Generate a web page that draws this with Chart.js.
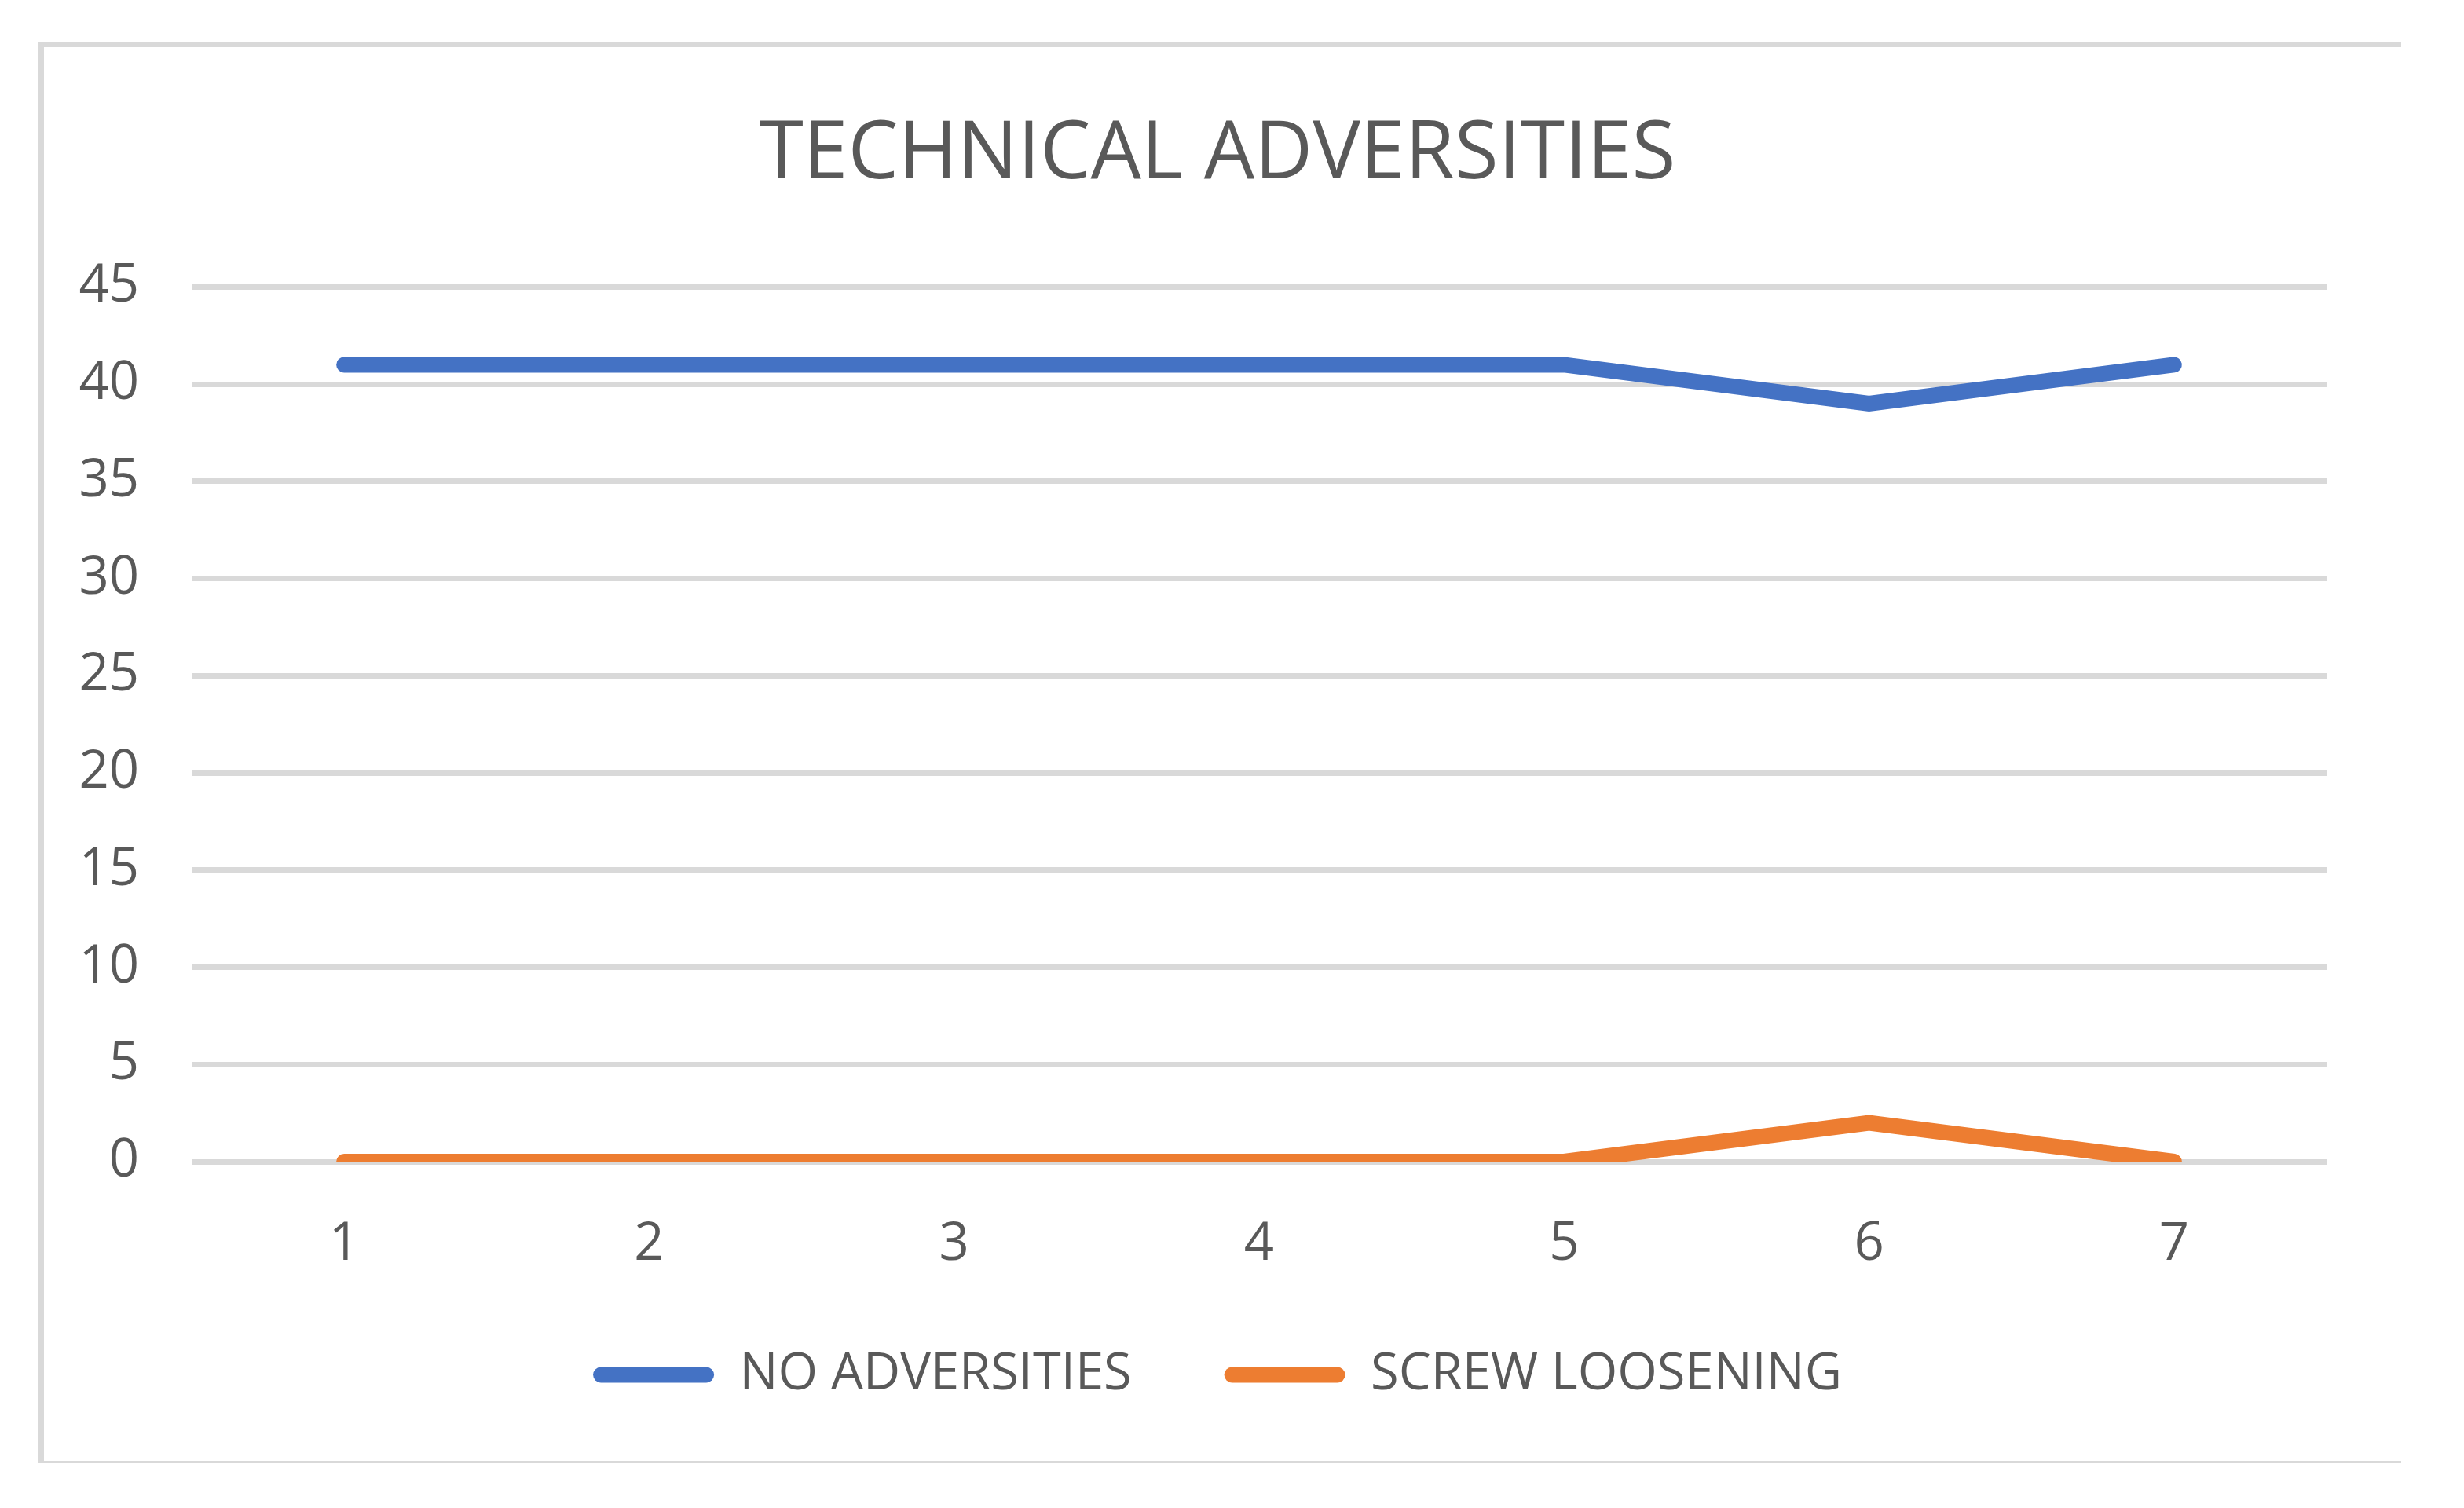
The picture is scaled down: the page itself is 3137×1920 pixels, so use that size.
<!DOCTYPE html>
<html>
<head>
<meta charset="utf-8">
<script src="https://cdn.jsdelivr.net/npm/chart.js@4/dist/chart.umd.min.js"></script>
<style>
  html, body { margin: 0; padding: 0; background: #ffffff; }
  canvas { display: block; }
</style>
</head>
<body>
<canvas id="c" width="3137" height="1920"></canvas>
<script>
const categories = ['1', '2', '3', '4', '5', '6', '7'];
const noAdversities = [41, 41, 41, 41, 41, 39, 41];
const screwLoosening = [0, 0, 0, 0, 0, 2, 0];
const seriesNames = ['NO ADVERSITIES', 'SCREW LOOSENING'];
const seriesColors = ['#4472C4', '#ED7D31'];
const chartTitle = 'TECHNICAL ADVERSITIES';
const yMin = 0, yMax = 45, yStep = 5;

const TEXT = '#595959';
const GRID = '#D9D9D9';
const FONT = "'Open Sans', 'Liberation Sans', sans-serif";

const framePlugin = {
  id: 'frame',
  beforeDraw(chart) {
    const ctx = chart.ctx;
    ctx.save();
    ctx.fillStyle = '#ffffff';
    ctx.fillRect(0, 0, chart.width, chart.height);
    ctx.fillStyle = GRID;
    ctx.fillRect(49, 53, 3008, 7);    // top
    ctx.fillRect(49, 53, 7, 1810);    // left
    ctx.fillRect(49, 1860, 3008, 3);  // bottom
    ctx.restore();
  }
};

new Chart(document.getElementById('c'), {
  type: 'line',
  data: {
    labels: categories,
    datasets: [
      { label: seriesNames[0], data: noAdversities, borderColor: seriesColors[0], backgroundColor: seriesColors[0] },
      { label: seriesNames[1], data: screwLoosening, borderColor: seriesColors[1], backgroundColor: seriesColors[1] }
    ]
  },
  options: {
    responsive: false,
    animation: false,
    devicePixelRatio: 1,
    layout: { padding: { left: 95, right: 132, top: 0, bottom: 127 } },
    elements: {
      line: { borderWidth: 20, borderCapStyle: 'round', borderJoinStyle: 'miter', tension: 0, fill: false },
      point: { radius: 0, hoverRadius: 0 }
    },
    plugins: {
      tooltip: { enabled: false },
      title: {
        display: true,
        text: chartTitle,
        color: TEXT,
        font: { family: FONT, size: 102, weight: 'normal', lineHeight: 1.2 },
        padding: { top: 137, bottom: 106 }
      },
      legend: {
        display: true,
        position: 'bottom',
        labels: {
          color: TEXT,
          font: { family: FONT, size: 65, weight: 'normal' },
          boxWidth: 154,
          boxHeight: 20,
          padding: 101,
          generateLabels(chart) {
            const n = chart.data.datasets.length;
            return chart.data.datasets.map((ds, i) => ({
              text: i < n - 1 ? ds.label + '\u00A0' : ds.label,
              fillStyle: ds.borderColor,
              strokeStyle: ds.borderColor,
              lineWidth: 0,
              borderRadius: 10,
              fontColor: TEXT,
              hidden: false,
              datasetIndex: i
            }));
          }
        }
      }
    },
    scales: {
      x: {
        offset: true,
        grid: { display: false, drawTicks: false },
        border: { display: false },
        ticks: { color: TEXT, font: { family: FONT, size: 67 }, padding: 66, maxRotation: 0 },
        afterFit(scale) { scale.height = 138; }
      },
      y: {
        min: yMin,
        max: yMax,
        ticks: { stepSize: yStep, color: TEXT, font: { family: FONT, size: 67 }, padding: 67 },
        grid: { color: GRID, lineWidth: 7, drawTicks: false },
        border: { display: false },
        afterFit(scale) { scale.width = 149; }
      },
      yRightSpace: {
        position: 'right',
        display: true,
        grid: { display: false, drawTicks: false },
        border: { display: false },
        ticks: { display: false },
        afterFit(scale) { scale.width = 43; }
      }
    }
  },
  plugins: [framePlugin]
});
</script>
</body>
</html>
